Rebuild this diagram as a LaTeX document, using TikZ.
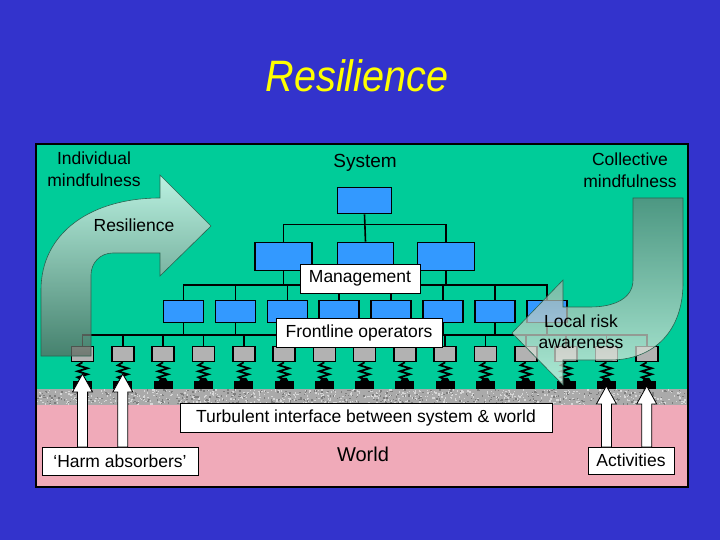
\documentclass[tikz,border=0pt]{standalone}
\usepackage{fontspec}
\usepackage{graphicx}
\setmainfont{Liberation Sans}
\usetikzlibrary{calc}
\definecolor{bgblue}{RGB}{51,51,204}
\definecolor{panelgreen}{RGB}{0,204,153}
\definecolor{boxblue}{RGB}{51,153,255}
\definecolor{boxgray}{RGB}{178,178,178}
\definecolor{worldpink}{RGB}{240,170,185}
\definecolor{noisegray}{RGB}{170,170,170}
\definecolor{noiselight}{RGB}{215,215,215}
\definecolor{noisedark}{RGB}{125,125,125}
\definecolor{titleyellow}{RGB}{255,255,0}
\definecolor{titleshadow}{RGB}{110,100,70}
\definecolor{flowedge}{RGB}{40,100,80}
\definecolor{leftlight}{RGB}{250,255,250}
\definecolor{leftdark}{RGB}{93,105,96}
\definecolor{rightdark}{RGB}{107,132,122}
\definecolor{rightlight}{RGB}{240,245,236}
\newcommand\lblfont{\fontsize{17.5}{22}\selectfont}
\newcommand\blockarr[3]{\draw[blockarrow] ({#1-5},#2) -- ({#1-5},{#3+18}) -- ({#1-10},{#3+18}) -- (#1,#3) -- ({#1+10},{#3+18}) -- ({#1+5},{#3+18}) -- ({#1+5},#2) -- cycle;}
\begin{document}
\begin{tikzpicture}[x=1pt,y=-1pt,
  conn/.style={line width=1.6pt, black},
  topbox/.style={draw=black, line width=1.6pt, fill=boxblue, minimum width=54pt, minimum height=26pt, inner sep=0},
  midbox/.style={topbox, minimum width=57pt, minimum height=28pt},
  lowbox/.style={topbox, minimum width=40pt, minimum height=22pt},
  opbox/.style={draw=black, line width=1.6pt, fill=boxgray, minimum width=22pt, minimum height=15pt, inner sep=0},
  foot/.style={fill=black, minimum width=19pt, minimum height=8pt, inner sep=0},
  spring/.style={line width=1.8pt, black},
  tag/.style={draw=black, line width=1pt, fill=white, inner sep=0, font=\lblfont},
  txt/.style={inner sep=0, font=\lblfont, align=center},
  flowarrow/.style={draw=flowedge, line width=0.6pt},
  blockarrow/.style={draw=black, line width=0.8pt, fill=white}
]
\useasboundingbox (0,0) rectangle (720,540);
\fill[bgblue] (0,0) rectangle (720,540);

% panel
\fill[panelgreen] (36,144) rectangle (688,389);
\fill[noisegray] (36,389) rectangle (688,405);
\pgfmathsetseed{7}
\foreach \n in {1,...,700}{\pgfmathsetmacro\rx{36+650*rnd}\pgfmathsetmacro\ry{389+14.6*rnd}\fill[noiselight] (\rx,\ry) rectangle ++(1.4,1.4);}
\foreach \n in {1,...,450}{\pgfmathsetmacro\rx{36+650*rnd}\pgfmathsetmacro\ry{389+14.6*rnd}\fill[noisedark] (\rx,\ry) rectangle ++(1.4,1.4);}
\fill[worldpink] (36,405) rectangle (688,487);
\draw[black, line width=1.5pt] (36,144) rectangle (688,487);

% title
\node[inner sep=0, anchor=base, text=titleyellow, font=\fontsize{44}{50}\selectfont\itshape] (title) at (357,92) {\scalebox{0.9}[1]{Resilience}};

% hierarchy boxes
\node[topbox] (top) at (364.5,200.5) {};
\node[midbox] (m1) at (283.5,256.5) {};
\node[midbox, minimum width=56pt] (m2) at (365.5,256.5) {};
\node[midbox] (m3) at (446,256.5) {};
\foreach \i in {1,...,8}{\node[lowbox] (f\i) at ({183.5+51.9*(\i-1)},311.5) {};}
\foreach \i in {1,...,15}{
  \node[opbox] (g\i) at ({82.5+40.3*(\i-1)},354) {};
  \node[foot] (k\i) at ({82.5+40.3*(\i-1)},385) {};
}

% connectors
\draw[conn] (top.south) -- (m2.north);
\draw[conn] (m1.north) -- ++(0,-17) -| (m3.north);
\foreach \i in {1,2,3}{\draw[conn] (m\i.south) -- ++(0,14);}
\draw[conn] (f1.north) -- ++(0,-15) -| (f8.north);
\foreach \i in {2,...,7}{\draw[conn] (f\i.north) -- ++(0,-15);}
\foreach \i in {1,...,8}{\draw[conn] (f\i.south) -- ++(0,12);}
\draw[conn] (g1.north) -- ++(0,-11) -| (g15.north);
\foreach \i in {2,...,14}{\draw[conn] (g\i.north) -- ++(0,-11);}

% springs
\foreach \i in {1,...,15}{
  \draw[spring, line join=miter] (g\i.south) -- ++(-5,3) -- ++(10,3) -- ++(-10,3) -- ++(10,3) -- ++(-10,3) -- ++(5,2.5);
  \fill[black] ($(k\i.north)+(-4.5,0.5)$) -- ++(2,-3.5) -- ++(5,0) -- ++(2,3.5) -- cycle;
}

% tags in hierarchy
\node[tag, minimum width=120pt, minimum height=29pt] (mgmt) at (360,278.5) {Management};
\node[tag, minimum width=166pt, minimum height=29pt] (front) at (359,332.5) {Frontline operators};

% left flow arrow
\shade[top color=leftlight, bottom color=leftdark, fill opacity=0.75]
  (41,356) -- (41,290) .. controls (41,232) and (92,198) .. (160,198) -- (160,175) -- (211,226) -- (160,276) -- (160,253) -- (113,253) .. controls (100,253) and (91,263) .. (91,275) -- (91,356) -- cycle;
\draw[flowarrow]
  (41,356) -- (41,290) .. controls (41,232) and (92,198) .. (160,198) -- (160,175) -- (211,226) -- (160,276) -- (160,253) -- (113,253) .. controls (100,253) and (91,263) .. (91,275) -- (91,356) -- cycle;
\node[txt] (resil) at (134,225.5) {Resilience};

% right flow arrow
\shade[top color=rightdark, bottom color=rightlight, fill opacity=0.72]
  (633,198) -- (683,198) -- (683,283) .. controls (683,330) and (655,360) .. (610,360) -- (563,360) -- (563,385) -- (512,333) -- (563,280) -- (563,307) -- (590,307) .. controls (615,307) and (633,298) .. (633,280) -- cycle;
\draw[flowarrow]
  (633,198) -- (683,198) -- (683,283) .. controls (683,330) and (655,360) .. (610,360) -- (563,360) -- (563,385) -- (512,333) -- (563,280) -- (563,307) -- (590,307) .. controls (615,307) and (633,298) .. (633,280) -- cycle;
\node[txt, font=\fontsize{17.5}{21}\selectfont] (local) at (581,332) {Local risk\\awareness};

% interface and world
\node[tag, minimum width=372pt, minimum height=29pt] (turb) at (366,417.5) {Turbulent interface between system \& world};
\node[tag, minimum width=156pt, minimum height=28pt] (harm) at (120,461) {‘Harm absorbers’};
\node[tag, minimum width=86pt, minimum height=27pt] (act) at (631,460.5) {Activities};
\blockarr{82.5}{447}{374}
\blockarr{122.8}{447}{374}
\blockarr{606.4}{447}{386}
\blockarr{646.7}{447}{386}

% free texts
\node[txt, font=\fontsize{20}{24}\selectfont] (world) at (363,454) {World};
\node[txt, font=\fontsize{19}{23}\selectfont] (system) at (365,163) {System};
\node[txt] (indiv) at (94,169.5) {Individual\\mindfulness};
\node[txt] (collect) at (630,170) {Collective\\mindfulness};
\end{tikzpicture}
\end{document}
